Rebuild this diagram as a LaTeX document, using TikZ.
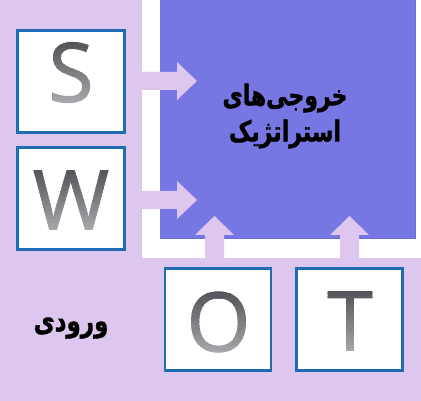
\documentclass[tikz,border=0pt]{standalone}
\usepackage{fontspec}
\setmainfont{Open Sans}
\newfontfamily\letterfont[FakeBold=1.3]{Open Sans}
\newfontfamily\arabicfont[Script=Arabic,FakeBold=1.5]{DejaVu Sans Bold}
\TeXXeTstate=1
\usetikzlibrary{calc}
\definecolor{lav}{HTML}{DDC7EE}
\definecolor{bluebg}{HTML}{7777E3}
\definecolor{blueedge}{HTML}{6C6CD8}
\definecolor{boxedge}{HTML}{1F6BB3}
\definecolor{gdark}{HTML}{4C4D52}
\definecolor{glight}{HTML}{ABACB0}
\tikzset{
  letterbox/.style={draw=boxedge, line width=2.2pt, fill=white, inner sep=0pt},
  letterglyph/.style={font=\letterfont\fontsize{82}{90}\selectfont, inner sep=0pt},
  blockarrow/.style={fill=lav, draw=none},
  label/.style={text=black, align=center}
}
\newcommand\gradletter[3]{% #1 name, #2 position, #3 letter
  \foreach \k in {0,...,17} {
    \pgfmathsetmacro\pct{100-\k*100/17}
    \colorlet{gcur}{gdark!\pct!glight}
    \begin{scope}
      \clip ($(#2)+(-60,-36+\k*4)$) rectangle ++(120,4.2);
      \node[letterglyph, text=gcur] at (#2) {#3};
    \end{scope}
  }
  \node[letterglyph, opacity=0] (#1) at (#2) {#3};
}
\begin{document}
\begin{tikzpicture}[x=1pt,y=-1pt]
\useasboundingbox (0,0) rectangle (421,401);
% background
\fill[lav] (0,0) rectangle (421,401);
\fill[white] (142,0) rectangle (421,258);
\fill[bluebg] (160,0) rectangle (415,238);
\draw[blueedge, line width=0.6pt] (160,238) -- (415,238) -- (415,0);
% boxes
\node[letterbox, minimum width=107pt, minimum height=102pt] (Sbox) at (71,81.5) {};
\node[letterbox, minimum width=107pt, minimum height=102pt] (Wbox) at (71,198.5) {};
\node[letterbox, minimum width=106pt, minimum height=102pt] (Obox) at (218,319.5) {};
\node[letterbox, minimum width=106pt, minimum height=102pt] (Tbox) at (349.5,319.5) {};
% letters
\gradletter{S}{71,72.5}{S}
\gradletter{W}{71,200}{W}
\gradletter{O}{218.5,322}{O}
\gradletter{T}{350,321}{T}
% arrows
\fill[blockarrow] (142,72) -- (177,72) -- (177,62) -- (197,81) -- (177,100) -- (177,90) -- (142,90) -- cycle;
\fill[blockarrow] (142,191) -- (177,191) -- (177,181) -- (197,200) -- (177,219) -- (177,209) -- (142,209) -- cycle;
\fill[blockarrow] (205,258) -- (205,235) -- (195,235) -- (214.5,216) -- (234,235) -- (224,235) -- (224,258) -- cycle;
\fill[blockarrow] (340,258) -- (340,235) -- (330,235) -- (349.5,216) -- (369,235) -- (359,235) -- (359,258) -- cycle;
% texts
\node[label] (out1) at (285,98) {\scalebox{1}[1.3]{\arabicfont\fontsize{22}{28}\selectfont\beginR خروجی‌های\endR}};
\node[label] (out2) at (285,134) {\scalebox{1}[1.3]{\arabicfont\fontsize{22}{28}\selectfont\beginR استراتژیک\endR}};
\node[label] (in) at (71,328) {\scalebox{1}[1.3]{\arabicfont\fontsize{23}{28}\selectfont\beginR ورودی\endR}};
\end{tikzpicture}
\end{document}
